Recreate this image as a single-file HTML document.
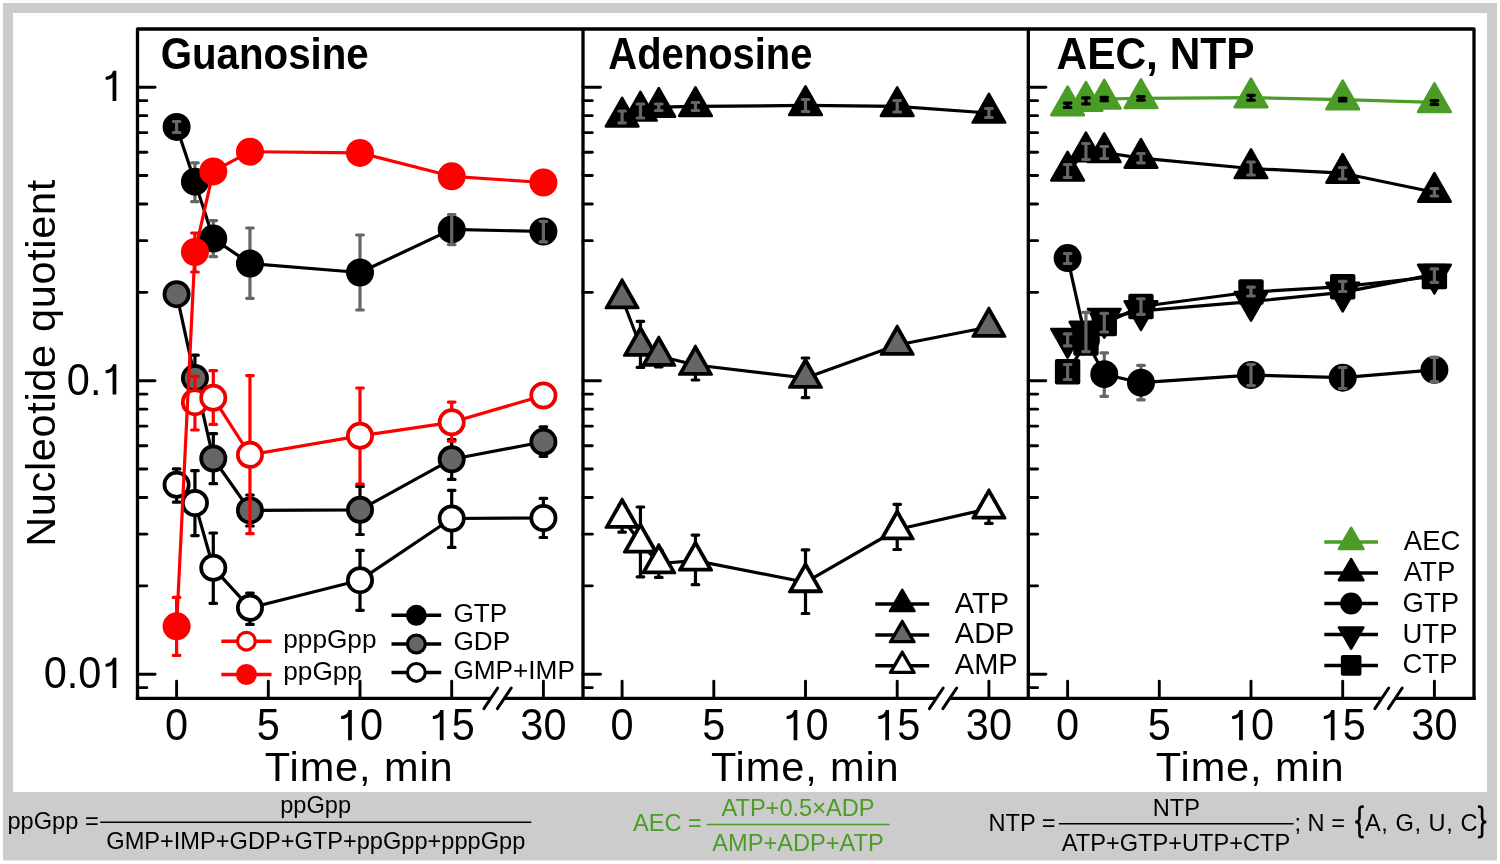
<!DOCTYPE html><html><head><meta charset="utf-8"><style>html,body{margin:0;padding:0;background:#fff;overflow:hidden;}svg{display:block;will-change:transform;}</style></head><body>
<svg width="1500" height="864" viewBox="0 0 1500 864" font-family='"Liberation Sans", sans-serif'>
<rect x="0" y="0" width="1500" height="864" fill="#fff"/>
<rect x="3" y="3" width="1494" height="857.5" fill="#cccccc"/>
<rect x="13" y="13" width="1474" height="779" fill="#fff"/>
<line x1="137.5" y1="87.20" x2="155.0" y2="87.20" stroke="#000" stroke-width="2.9" stroke-linecap="round"/>
<line x1="137.5" y1="380.70" x2="155.0" y2="380.70" stroke="#000" stroke-width="2.9" stroke-linecap="round"/>
<line x1="137.5" y1="674.20" x2="155.0" y2="674.20" stroke="#000" stroke-width="2.9" stroke-linecap="round"/>
<line x1="137.5" y1="292.35" x2="146.8" y2="292.35" stroke="#000" stroke-width="2.9" stroke-linecap="round"/>
<line x1="137.5" y1="240.66" x2="146.8" y2="240.66" stroke="#000" stroke-width="2.9" stroke-linecap="round"/>
<line x1="137.5" y1="204.00" x2="146.8" y2="204.00" stroke="#000" stroke-width="2.9" stroke-linecap="round"/>
<line x1="137.5" y1="175.55" x2="146.8" y2="175.55" stroke="#000" stroke-width="2.9" stroke-linecap="round"/>
<line x1="137.5" y1="152.31" x2="146.8" y2="152.31" stroke="#000" stroke-width="2.9" stroke-linecap="round"/>
<line x1="137.5" y1="132.66" x2="146.8" y2="132.66" stroke="#000" stroke-width="2.9" stroke-linecap="round"/>
<line x1="137.5" y1="115.64" x2="146.8" y2="115.64" stroke="#000" stroke-width="2.9" stroke-linecap="round"/>
<line x1="137.5" y1="100.63" x2="146.8" y2="100.63" stroke="#000" stroke-width="2.9" stroke-linecap="round"/>
<line x1="137.5" y1="585.85" x2="146.8" y2="585.85" stroke="#000" stroke-width="2.9" stroke-linecap="round"/>
<line x1="137.5" y1="534.16" x2="146.8" y2="534.16" stroke="#000" stroke-width="2.9" stroke-linecap="round"/>
<line x1="137.5" y1="497.50" x2="146.8" y2="497.50" stroke="#000" stroke-width="2.9" stroke-linecap="round"/>
<line x1="137.5" y1="469.05" x2="146.8" y2="469.05" stroke="#000" stroke-width="2.9" stroke-linecap="round"/>
<line x1="137.5" y1="445.81" x2="146.8" y2="445.81" stroke="#000" stroke-width="2.9" stroke-linecap="round"/>
<line x1="137.5" y1="426.16" x2="146.8" y2="426.16" stroke="#000" stroke-width="2.9" stroke-linecap="round"/>
<line x1="137.5" y1="409.14" x2="146.8" y2="409.14" stroke="#000" stroke-width="2.9" stroke-linecap="round"/>
<line x1="137.5" y1="394.13" x2="146.8" y2="394.13" stroke="#000" stroke-width="2.9" stroke-linecap="round"/>
<line x1="137.5" y1="687.63" x2="146.8" y2="687.63" stroke="#000" stroke-width="2.9" stroke-linecap="round"/>
<line x1="176.60" y1="698.3" x2="176.60" y2="681.1" stroke="#000" stroke-width="2.9" stroke-linecap="round"/>
<line x1="268.30" y1="698.3" x2="268.30" y2="681.1" stroke="#000" stroke-width="2.9" stroke-linecap="round"/>
<line x1="360.00" y1="698.3" x2="360.00" y2="681.1" stroke="#000" stroke-width="2.9" stroke-linecap="round"/>
<line x1="451.70" y1="698.3" x2="451.70" y2="681.1" stroke="#000" stroke-width="2.9" stroke-linecap="round"/>
<line x1="543.40" y1="698.3" x2="543.40" y2="681.1" stroke="#000" stroke-width="2.9" stroke-linecap="round"/>
<line x1="583.0" y1="87.20" x2="600.5" y2="87.20" stroke="#000" stroke-width="2.9" stroke-linecap="round"/>
<line x1="583.0" y1="380.70" x2="600.5" y2="380.70" stroke="#000" stroke-width="2.9" stroke-linecap="round"/>
<line x1="583.0" y1="674.20" x2="600.5" y2="674.20" stroke="#000" stroke-width="2.9" stroke-linecap="round"/>
<line x1="583.0" y1="292.35" x2="592.3" y2="292.35" stroke="#000" stroke-width="2.9" stroke-linecap="round"/>
<line x1="583.0" y1="240.66" x2="592.3" y2="240.66" stroke="#000" stroke-width="2.9" stroke-linecap="round"/>
<line x1="583.0" y1="204.00" x2="592.3" y2="204.00" stroke="#000" stroke-width="2.9" stroke-linecap="round"/>
<line x1="583.0" y1="175.55" x2="592.3" y2="175.55" stroke="#000" stroke-width="2.9" stroke-linecap="round"/>
<line x1="583.0" y1="152.31" x2="592.3" y2="152.31" stroke="#000" stroke-width="2.9" stroke-linecap="round"/>
<line x1="583.0" y1="132.66" x2="592.3" y2="132.66" stroke="#000" stroke-width="2.9" stroke-linecap="round"/>
<line x1="583.0" y1="115.64" x2="592.3" y2="115.64" stroke="#000" stroke-width="2.9" stroke-linecap="round"/>
<line x1="583.0" y1="100.63" x2="592.3" y2="100.63" stroke="#000" stroke-width="2.9" stroke-linecap="round"/>
<line x1="583.0" y1="585.85" x2="592.3" y2="585.85" stroke="#000" stroke-width="2.9" stroke-linecap="round"/>
<line x1="583.0" y1="534.16" x2="592.3" y2="534.16" stroke="#000" stroke-width="2.9" stroke-linecap="round"/>
<line x1="583.0" y1="497.50" x2="592.3" y2="497.50" stroke="#000" stroke-width="2.9" stroke-linecap="round"/>
<line x1="583.0" y1="469.05" x2="592.3" y2="469.05" stroke="#000" stroke-width="2.9" stroke-linecap="round"/>
<line x1="583.0" y1="445.81" x2="592.3" y2="445.81" stroke="#000" stroke-width="2.9" stroke-linecap="round"/>
<line x1="583.0" y1="426.16" x2="592.3" y2="426.16" stroke="#000" stroke-width="2.9" stroke-linecap="round"/>
<line x1="583.0" y1="409.14" x2="592.3" y2="409.14" stroke="#000" stroke-width="2.9" stroke-linecap="round"/>
<line x1="583.0" y1="394.13" x2="592.3" y2="394.13" stroke="#000" stroke-width="2.9" stroke-linecap="round"/>
<line x1="583.0" y1="687.63" x2="592.3" y2="687.63" stroke="#000" stroke-width="2.9" stroke-linecap="round"/>
<line x1="622.10" y1="698.3" x2="622.10" y2="681.1" stroke="#000" stroke-width="2.9" stroke-linecap="round"/>
<line x1="713.80" y1="698.3" x2="713.80" y2="681.1" stroke="#000" stroke-width="2.9" stroke-linecap="round"/>
<line x1="805.50" y1="698.3" x2="805.50" y2="681.1" stroke="#000" stroke-width="2.9" stroke-linecap="round"/>
<line x1="897.20" y1="698.3" x2="897.20" y2="681.1" stroke="#000" stroke-width="2.9" stroke-linecap="round"/>
<line x1="988.90" y1="698.3" x2="988.90" y2="681.1" stroke="#000" stroke-width="2.9" stroke-linecap="round"/>
<line x1="1028.3" y1="87.20" x2="1045.8" y2="87.20" stroke="#000" stroke-width="2.9" stroke-linecap="round"/>
<line x1="1028.3" y1="380.70" x2="1045.8" y2="380.70" stroke="#000" stroke-width="2.9" stroke-linecap="round"/>
<line x1="1028.3" y1="674.20" x2="1045.8" y2="674.20" stroke="#000" stroke-width="2.9" stroke-linecap="round"/>
<line x1="1028.3" y1="292.35" x2="1037.6" y2="292.35" stroke="#000" stroke-width="2.9" stroke-linecap="round"/>
<line x1="1028.3" y1="240.66" x2="1037.6" y2="240.66" stroke="#000" stroke-width="2.9" stroke-linecap="round"/>
<line x1="1028.3" y1="204.00" x2="1037.6" y2="204.00" stroke="#000" stroke-width="2.9" stroke-linecap="round"/>
<line x1="1028.3" y1="175.55" x2="1037.6" y2="175.55" stroke="#000" stroke-width="2.9" stroke-linecap="round"/>
<line x1="1028.3" y1="152.31" x2="1037.6" y2="152.31" stroke="#000" stroke-width="2.9" stroke-linecap="round"/>
<line x1="1028.3" y1="132.66" x2="1037.6" y2="132.66" stroke="#000" stroke-width="2.9" stroke-linecap="round"/>
<line x1="1028.3" y1="115.64" x2="1037.6" y2="115.64" stroke="#000" stroke-width="2.9" stroke-linecap="round"/>
<line x1="1028.3" y1="100.63" x2="1037.6" y2="100.63" stroke="#000" stroke-width="2.9" stroke-linecap="round"/>
<line x1="1028.3" y1="585.85" x2="1037.6" y2="585.85" stroke="#000" stroke-width="2.9" stroke-linecap="round"/>
<line x1="1028.3" y1="534.16" x2="1037.6" y2="534.16" stroke="#000" stroke-width="2.9" stroke-linecap="round"/>
<line x1="1028.3" y1="497.50" x2="1037.6" y2="497.50" stroke="#000" stroke-width="2.9" stroke-linecap="round"/>
<line x1="1028.3" y1="469.05" x2="1037.6" y2="469.05" stroke="#000" stroke-width="2.9" stroke-linecap="round"/>
<line x1="1028.3" y1="445.81" x2="1037.6" y2="445.81" stroke="#000" stroke-width="2.9" stroke-linecap="round"/>
<line x1="1028.3" y1="426.16" x2="1037.6" y2="426.16" stroke="#000" stroke-width="2.9" stroke-linecap="round"/>
<line x1="1028.3" y1="409.14" x2="1037.6" y2="409.14" stroke="#000" stroke-width="2.9" stroke-linecap="round"/>
<line x1="1028.3" y1="394.13" x2="1037.6" y2="394.13" stroke="#000" stroke-width="2.9" stroke-linecap="round"/>
<line x1="1028.3" y1="687.63" x2="1037.6" y2="687.63" stroke="#000" stroke-width="2.9" stroke-linecap="round"/>
<line x1="1067.60" y1="698.3" x2="1067.60" y2="681.1" stroke="#000" stroke-width="2.9" stroke-linecap="round"/>
<line x1="1159.30" y1="698.3" x2="1159.30" y2="681.1" stroke="#000" stroke-width="2.9" stroke-linecap="round"/>
<line x1="1251.00" y1="698.3" x2="1251.00" y2="681.1" stroke="#000" stroke-width="2.9" stroke-linecap="round"/>
<line x1="1342.70" y1="698.3" x2="1342.70" y2="681.1" stroke="#000" stroke-width="2.9" stroke-linecap="round"/>
<line x1="1434.40" y1="698.3" x2="1434.40" y2="681.1" stroke="#000" stroke-width="2.9" stroke-linecap="round"/>
<path d="M137.5 698.3V29.0H1474.0V698.3" stroke="#000" stroke-width="3.3" fill="none" stroke-linejoin="round" stroke-linecap="square"/>
<path d="M583.0 29.0V698.3M1028.3 29.0V698.3" stroke="#000" stroke-width="3.3" fill="none"/>
<path d="M135.85 698.3H490.80M504.30 698.3H936.30M949.80 698.3H1381.80M1395.30 698.3H1475.65" stroke="#000" stroke-width="3.3" fill="none"/>
<line x1="483.90" y1="708.70" x2="497.70" y2="688.00" stroke="#000" stroke-width="3" stroke-linecap="round"/>
<line x1="497.40" y1="708.70" x2="511.20" y2="688.00" stroke="#000" stroke-width="3" stroke-linecap="round"/>
<line x1="929.40" y1="708.70" x2="943.20" y2="688.00" stroke="#000" stroke-width="3" stroke-linecap="round"/>
<line x1="942.90" y1="708.70" x2="956.70" y2="688.00" stroke="#000" stroke-width="3" stroke-linecap="round"/>
<line x1="1374.90" y1="708.70" x2="1388.70" y2="688.00" stroke="#000" stroke-width="3" stroke-linecap="round"/>
<line x1="1388.40" y1="708.70" x2="1402.20" y2="688.00" stroke="#000" stroke-width="3" stroke-linecap="round"/>
<path d="M176.60 484.80 L194.94 503.00 L213.28 567.80 L249.96 607.80 L360.00 580.20 L451.70 518.50 L543.40 518.00" stroke="#000" stroke-width="3.2" fill="none" stroke-linejoin="round"/>
<path d="M176.60 468.90V502.20M173.30 468.90H179.90M173.30 502.20H179.90" stroke="#000" stroke-width="3.2" stroke-linecap="round" fill="none"/>
<circle cx="176.60" cy="484.80" r="12.15" fill="#fff" stroke="#000" stroke-width="3.7"/>
<path d="M194.94 470.70V535.60M191.64 470.70H198.24M191.64 535.60H198.24" stroke="#000" stroke-width="3.2" stroke-linecap="round" fill="none"/>
<circle cx="194.94" cy="503.00" r="12.15" fill="#fff" stroke="#000" stroke-width="3.7"/>
<path d="M213.28 533.00V603.30M209.98 533.00H216.58M209.98 603.30H216.58" stroke="#000" stroke-width="3.2" stroke-linecap="round" fill="none"/>
<circle cx="213.28" cy="567.80" r="12.15" fill="#fff" stroke="#000" stroke-width="3.7"/>
<path d="M249.96 593.00V624.40M246.66 593.00H253.26M246.66 624.40H253.26" stroke="#000" stroke-width="3.2" stroke-linecap="round" fill="none"/>
<circle cx="249.96" cy="607.80" r="12.15" fill="#fff" stroke="#000" stroke-width="3.7"/>
<path d="M360.00 550.40V610.30M356.70 550.40H363.30M356.70 610.30H363.30" stroke="#000" stroke-width="3.2" stroke-linecap="round" fill="none"/>
<circle cx="360.00" cy="580.20" r="12.15" fill="#fff" stroke="#000" stroke-width="3.7"/>
<path d="M451.70 490.30V547.40M448.40 490.30H455.00M448.40 547.40H455.00" stroke="#000" stroke-width="3.2" stroke-linecap="round" fill="none"/>
<circle cx="451.70" cy="518.50" r="12.15" fill="#fff" stroke="#000" stroke-width="3.7"/>
<path d="M543.40 498.40V537.50M540.10 498.40H546.70M540.10 537.50H546.70" stroke="#000" stroke-width="3.2" stroke-linecap="round" fill="none"/>
<circle cx="543.40" cy="518.00" r="12.15" fill="#fff" stroke="#000" stroke-width="3.7"/>
<path d="M176.60 294.20 L194.94 378.10 L213.28 458.50 L249.96 510.40 L360.00 509.80 L451.70 459.30 L543.40 441.80" stroke="#000" stroke-width="3.2" fill="none" stroke-linejoin="round"/>
<circle cx="176.60" cy="294.20" r="12.15" fill="#666666" stroke="#000" stroke-width="3.7"/>
<path d="M194.94 355.20V400.00M191.64 355.20H198.24M191.64 400.00H198.24" stroke="#000" stroke-width="3.2" stroke-linecap="round" fill="none"/>
<circle cx="194.94" cy="378.10" r="12.15" fill="#666666" stroke="#000" stroke-width="3.7"/>
<path d="M213.28 433.70V483.70M209.98 433.70H216.58M209.98 483.70H216.58" stroke="#000" stroke-width="3.2" stroke-linecap="round" fill="none"/>
<circle cx="213.28" cy="458.50" r="12.15" fill="#666666" stroke="#000" stroke-width="3.7"/>
<path d="M249.96 495.00V526.00M246.66 495.00H253.26M246.66 526.00H253.26" stroke="#000" stroke-width="3.2" stroke-linecap="round" fill="none"/>
<circle cx="249.96" cy="510.40" r="12.15" fill="#666666" stroke="#000" stroke-width="3.7"/>
<path d="M360.00 486.40V534.50M356.70 486.40H363.30M356.70 534.50H363.30" stroke="#000" stroke-width="3.2" stroke-linecap="round" fill="none"/>
<circle cx="360.00" cy="509.80" r="12.15" fill="#666666" stroke="#000" stroke-width="3.7"/>
<path d="M451.70 439.70V479.40M448.40 439.70H455.00M448.40 479.40H455.00" stroke="#000" stroke-width="3.2" stroke-linecap="round" fill="none"/>
<circle cx="451.70" cy="459.30" r="12.15" fill="#666666" stroke="#000" stroke-width="3.7"/>
<path d="M543.40 426.80V456.30M540.10 426.80H546.70M540.10 456.30H546.70" stroke="#000" stroke-width="3.2" stroke-linecap="round" fill="none"/>
<circle cx="543.40" cy="441.80" r="12.15" fill="#666666" stroke="#000" stroke-width="3.7"/>
<path d="M176.60 126.90 L194.94 181.70 L213.28 238.60 L249.96 263.60 L360.00 272.50 L451.70 229.40 L543.40 231.50" stroke="#000" stroke-width="3.2" fill="none" stroke-linejoin="round"/>
<circle cx="176.60" cy="126.90" r="12.15" fill="#000" stroke="#000" stroke-width="3.7"/>
<path d="M194.94 162.80V201.70M191.64 162.80H198.24M191.64 201.70H198.24" stroke="#666666" stroke-width="3.2" stroke-linecap="round" fill="none"/>
<circle cx="194.94" cy="181.70" r="12.15" fill="#000" stroke="#000" stroke-width="3.7"/>
<path d="M213.28 220.60V256.70M209.98 220.60H216.58M209.98 256.70H216.58" stroke="#666666" stroke-width="3.2" stroke-linecap="round" fill="none"/>
<circle cx="213.28" cy="238.60" r="12.15" fill="#000" stroke="#000" stroke-width="3.7"/>
<path d="M249.96 228.00V298.30M246.66 228.00H253.26M246.66 298.30H253.26" stroke="#666666" stroke-width="3.2" stroke-linecap="round" fill="none"/>
<circle cx="249.96" cy="263.60" r="12.15" fill="#000" stroke="#000" stroke-width="3.7"/>
<path d="M360.00 235.00V310.00M356.70 235.00H363.30M356.70 310.00H363.30" stroke="#666666" stroke-width="3.2" stroke-linecap="round" fill="none"/>
<circle cx="360.00" cy="272.50" r="12.15" fill="#000" stroke="#000" stroke-width="3.7"/>
<circle cx="451.70" cy="229.40" r="12.15" fill="#000" stroke="#000" stroke-width="3.7"/>
<circle cx="543.40" cy="231.50" r="12.15" fill="#000" stroke="#000" stroke-width="3.7"/>
<path d="M194.94 402.20 L213.28 397.80 L249.96 454.80 L360.00 435.80 L451.70 422.30 L543.40 395.50" stroke="#ff0000" stroke-width="3.2" fill="none" stroke-linejoin="round"/>
<path d="M194.94 376.30V430.00M191.64 376.30H198.24M191.64 430.00H198.24" stroke="#ff0000" stroke-width="3.2" stroke-linecap="round" fill="none"/>
<circle cx="194.94" cy="402.20" r="12.15" fill="#fff" stroke="#ee0000" stroke-width="3.7"/>
<path d="M213.28 370.70V424.40M209.98 370.70H216.58M209.98 424.40H216.58" stroke="#ff0000" stroke-width="3.2" stroke-linecap="round" fill="none"/>
<circle cx="213.28" cy="397.80" r="12.15" fill="#fff" stroke="#ee0000" stroke-width="3.7"/>
<path d="M249.96 375.60V533.70M246.66 375.60H253.26M246.66 533.70H253.26" stroke="#ff0000" stroke-width="3.2" stroke-linecap="round" fill="none"/>
<circle cx="249.96" cy="454.80" r="12.15" fill="#fff" stroke="#ee0000" stroke-width="3.7"/>
<path d="M360.00 388.00V484.00M356.70 388.00H363.30M356.70 484.00H363.30" stroke="#ff0000" stroke-width="3.2" stroke-linecap="round" fill="none"/>
<circle cx="360.00" cy="435.80" r="12.15" fill="#fff" stroke="#ee0000" stroke-width="3.7"/>
<path d="M451.70 402.10V441.20M448.40 402.10H455.00M448.40 441.20H455.00" stroke="#ff0000" stroke-width="3.2" stroke-linecap="round" fill="none"/>
<circle cx="451.70" cy="422.30" r="12.15" fill="#fff" stroke="#ee0000" stroke-width="3.7"/>
<circle cx="543.40" cy="395.50" r="12.15" fill="#fff" stroke="#ee0000" stroke-width="3.7"/>
<path d="M176.60 626.30 L194.94 252.00 L213.28 171.40 L249.96 151.70 L360.00 152.90 L451.70 176.30 L543.40 182.50" stroke="#ff0000" stroke-width="3.2" fill="none" stroke-linejoin="round"/>
<path d="M176.60 597.40V655.40M173.30 597.40H179.90M173.30 655.40H179.90" stroke="#ff0000" stroke-width="3.2" stroke-linecap="round" fill="none"/>
<circle cx="176.60" cy="626.30" r="12.15" fill="#ff0000" stroke="#ff0000" stroke-width="3.7"/>
<path d="M194.94 233.00V272.00M191.64 233.00H198.24M191.64 272.00H198.24" stroke="#ff0000" stroke-width="3.2" stroke-linecap="round" fill="none"/>
<circle cx="194.94" cy="252.00" r="12.15" fill="#ff0000" stroke="#ff0000" stroke-width="3.7"/>
<circle cx="213.28" cy="171.40" r="12.15" fill="#ff0000" stroke="#ff0000" stroke-width="3.7"/>
<circle cx="249.96" cy="151.70" r="12.15" fill="#ff0000" stroke="#ff0000" stroke-width="3.7"/>
<circle cx="360.00" cy="152.90" r="12.15" fill="#ff0000" stroke="#ff0000" stroke-width="3.7"/>
<circle cx="451.70" cy="176.30" r="12.15" fill="#ff0000" stroke="#ff0000" stroke-width="3.7"/>
<circle cx="543.40" cy="182.50" r="12.15" fill="#ff0000" stroke="#ff0000" stroke-width="3.7"/>
<path d="M176.60 121.50V132.50M173.30 121.50H179.90M173.30 132.50H179.90" stroke="#666666" stroke-width="3.2" stroke-linecap="round" fill="none"/>
<path d="M451.70 214.50V244.60M448.40 214.50H455.00M448.40 244.60H455.00" stroke="#666666" stroke-width="3.2" stroke-linecap="round" fill="none"/>
<path d="M543.40 221.30V241.90M540.10 221.30H546.70M540.10 241.90H546.70" stroke="#666666" stroke-width="3.2" stroke-linecap="round" fill="none"/>
<path d="M622.10 518.00 L640.44 542.60 L658.78 563.50 L695.46 560.60 L805.50 582.30 L897.20 529.50 L988.90 508.60" stroke="#000" stroke-width="3.2" fill="none" stroke-linejoin="round"/>
<path d="M622.10 505.00V532.20M618.80 505.00H625.40M618.80 532.20H625.40" stroke="#000" stroke-width="3.2" stroke-linecap="round" fill="none"/>
<polygon points="622.10,498.93 605.82,527.53 638.38,527.53" fill="#000" stroke="#000" stroke-width="2.6" stroke-linejoin="round"/>
<polygon points="622.10,503.93 610.09,525.03 634.11,525.03" fill="#fff"/>
<path d="M640.44 507.00V576.80M637.14 507.00H643.74M637.14 576.80H643.74" stroke="#000" stroke-width="3.2" stroke-linecap="round" fill="none"/>
<polygon points="640.44,523.53 624.16,552.13 656.72,552.13" fill="#000" stroke="#000" stroke-width="2.6" stroke-linejoin="round"/>
<polygon points="640.44,528.53 628.43,549.63 652.45,549.63" fill="#fff"/>
<path d="M658.78 550.00V577.40M655.48 550.00H662.08M655.48 577.40H662.08" stroke="#000" stroke-width="3.2" stroke-linecap="round" fill="none"/>
<polygon points="658.78,544.43 642.50,573.03 675.06,573.03" fill="#000" stroke="#000" stroke-width="2.6" stroke-linejoin="round"/>
<polygon points="658.78,549.43 646.77,570.53 670.79,570.53" fill="#fff"/>
<path d="M695.46 535.10V584.70M692.16 535.10H698.76M692.16 584.70H698.76" stroke="#000" stroke-width="3.2" stroke-linecap="round" fill="none"/>
<polygon points="695.46,541.53 679.18,570.13 711.74,570.13" fill="#000" stroke="#000" stroke-width="2.6" stroke-linejoin="round"/>
<polygon points="695.46,546.53 683.45,567.63 707.47,567.63" fill="#fff"/>
<path d="M805.50 549.80V613.50M802.20 549.80H808.80M802.20 613.50H808.80" stroke="#000" stroke-width="3.2" stroke-linecap="round" fill="none"/>
<polygon points="805.50,563.23 789.22,591.83 821.78,591.83" fill="#000" stroke="#000" stroke-width="2.6" stroke-linejoin="round"/>
<polygon points="805.50,568.23 793.49,589.33 817.51,589.33" fill="#fff"/>
<path d="M897.20 504.30V549.50M893.90 504.30H900.50M893.90 549.50H900.50" stroke="#000" stroke-width="3.2" stroke-linecap="round" fill="none"/>
<polygon points="897.20,510.43 880.92,539.03 913.48,539.03" fill="#000" stroke="#000" stroke-width="2.6" stroke-linejoin="round"/>
<polygon points="897.20,515.43 885.19,536.53 909.21,536.53" fill="#fff"/>
<path d="M988.90 496.00V523.40M985.60 496.00H992.20M985.60 523.40H992.20" stroke="#000" stroke-width="3.2" stroke-linecap="round" fill="none"/>
<polygon points="988.90,489.53 972.62,518.13 1005.18,518.13" fill="#000" stroke="#000" stroke-width="2.6" stroke-linejoin="round"/>
<polygon points="988.90,494.53 976.89,515.63 1000.91,515.63" fill="#fff"/>
<path d="M622.10 298.50 L640.44 346.00 L658.78 356.00 L695.46 365.00 L805.50 378.00 L897.20 345.00 L988.90 327.00" stroke="#000" stroke-width="3.2" fill="none" stroke-linejoin="round"/>
<polygon points="622.10,279.43 605.82,308.03 638.38,308.03" fill="#000" stroke="#000" stroke-width="2.6" stroke-linejoin="round"/>
<polygon points="622.10,284.43 610.09,305.53 634.11,305.53" fill="#666666"/>
<path d="M640.44 321.30V367.40M637.14 321.30H643.74M637.14 367.40H643.74" stroke="#000" stroke-width="3.2" stroke-linecap="round" fill="none"/>
<polygon points="640.44,326.93 624.16,355.53 656.72,355.53" fill="#000" stroke="#000" stroke-width="2.6" stroke-linejoin="round"/>
<polygon points="640.44,331.93 628.43,353.03 652.45,353.03" fill="#666666"/>
<path d="M658.78 346.00V366.80M655.48 346.00H662.08M655.48 366.80H662.08" stroke="#000" stroke-width="3.2" stroke-linecap="round" fill="none"/>
<polygon points="658.78,336.93 642.50,365.53 675.06,365.53" fill="#000" stroke="#000" stroke-width="2.6" stroke-linejoin="round"/>
<polygon points="658.78,341.93 646.77,363.03 670.79,363.03" fill="#666666"/>
<path d="M695.46 358.00V380.00M692.16 358.00H698.76M692.16 380.00H698.76" stroke="#000" stroke-width="3.2" stroke-linecap="round" fill="none"/>
<polygon points="695.46,345.93 679.18,374.53 711.74,374.53" fill="#000" stroke="#000" stroke-width="2.6" stroke-linejoin="round"/>
<polygon points="695.46,350.93 683.45,372.03 707.47,372.03" fill="#666666"/>
<path d="M805.50 358.00V397.60M802.20 358.00H808.80M802.20 397.60H808.80" stroke="#000" stroke-width="3.2" stroke-linecap="round" fill="none"/>
<polygon points="805.50,358.93 789.22,387.53 821.78,387.53" fill="#000" stroke="#000" stroke-width="2.6" stroke-linejoin="round"/>
<polygon points="805.50,363.93 793.49,385.03 817.51,385.03" fill="#666666"/>
<polygon points="897.20,325.93 880.92,354.53 913.48,354.53" fill="#000" stroke="#000" stroke-width="2.6" stroke-linejoin="round"/>
<polygon points="897.20,330.93 885.19,352.03 909.21,352.03" fill="#666666"/>
<polygon points="988.90,307.93 972.62,336.53 1005.18,336.53" fill="#000" stroke="#000" stroke-width="2.6" stroke-linejoin="round"/>
<polygon points="988.90,312.93 976.89,334.03 1000.91,334.03" fill="#666666"/>
<path d="M622.10 116.90 L640.44 111.00 L658.78 107.20 L695.46 106.40 L805.50 105.40 L897.20 106.40 L988.90 113.00" stroke="#000" stroke-width="3.2" fill="none" stroke-linejoin="round"/>
<polygon points="622.10,97.83 605.82,126.43 638.38,126.43" fill="#000" stroke="#000" stroke-width="2.6" stroke-linejoin="round"/>
<polygon points="640.44,91.93 624.16,120.53 656.72,120.53" fill="#000" stroke="#000" stroke-width="2.6" stroke-linejoin="round"/>
<polygon points="658.78,88.13 642.50,116.73 675.06,116.73" fill="#000" stroke="#000" stroke-width="2.6" stroke-linejoin="round"/>
<polygon points="695.46,87.33 679.18,115.93 711.74,115.93" fill="#000" stroke="#000" stroke-width="2.6" stroke-linejoin="round"/>
<polygon points="805.50,86.33 789.22,114.93 821.78,114.93" fill="#000" stroke="#000" stroke-width="2.6" stroke-linejoin="round"/>
<polygon points="897.20,87.33 880.92,115.93 913.48,115.93" fill="#000" stroke="#000" stroke-width="2.6" stroke-linejoin="round"/>
<polygon points="988.90,93.93 972.62,122.53 1005.18,122.53" fill="#000" stroke="#000" stroke-width="2.6" stroke-linejoin="round"/>
<path d="M622.10 111.00V122.80M618.80 111.00H625.40M618.80 122.80H625.40" stroke="#666666" stroke-width="3.2" stroke-linecap="round" fill="none"/>
<path d="M640.44 104.00V118.00M637.14 104.00H643.74M637.14 118.00H643.74" stroke="#666666" stroke-width="3.2" stroke-linecap="round" fill="none"/>
<path d="M658.78 104.00V110.50M655.48 104.00H662.08M655.48 110.50H662.08" stroke="#666666" stroke-width="3.2" stroke-linecap="round" fill="none"/>
<path d="M695.46 102.50V110.50M692.16 102.50H698.76M692.16 110.50H698.76" stroke="#666666" stroke-width="3.2" stroke-linecap="round" fill="none"/>
<path d="M805.50 99.50V111.50M802.20 99.50H808.80M802.20 111.50H808.80" stroke="#666666" stroke-width="3.2" stroke-linecap="round" fill="none"/>
<path d="M897.20 100.50V112.00M893.90 100.50H900.50M893.90 112.00H900.50" stroke="#666666" stroke-width="3.2" stroke-linecap="round" fill="none"/>
<path d="M988.90 108.50V117.50M985.60 108.50H992.20M985.60 117.50H992.20" stroke="#666666" stroke-width="3.2" stroke-linecap="round" fill="none"/>
<path d="M1067.60 258.10 L1085.94 340.00 L1104.28 374.20 L1140.96 382.70 L1251.00 375.10 L1342.70 377.70 L1434.40 369.80" stroke="#000" stroke-width="3.2" fill="none" stroke-linejoin="round"/>
<circle cx="1067.60" cy="258.10" r="12.15" fill="#000" stroke="#000" stroke-width="3.7"/>
<circle cx="1085.94" cy="340.00" r="12.15" fill="#000" stroke="#000" stroke-width="3.7"/>
<path d="M1104.28 352.90V396.30M1100.98 352.90H1107.58M1100.98 396.30H1107.58" stroke="#666666" stroke-width="3.2" stroke-linecap="round" fill="none"/>
<circle cx="1104.28" cy="374.20" r="12.15" fill="#000" stroke="#000" stroke-width="3.7"/>
<path d="M1140.96 365.40V399.80M1137.66 365.40H1144.26M1137.66 399.80H1144.26" stroke="#666666" stroke-width="3.2" stroke-linecap="round" fill="none"/>
<circle cx="1140.96" cy="382.70" r="12.15" fill="#000" stroke="#000" stroke-width="3.7"/>
<circle cx="1251.00" cy="375.10" r="12.15" fill="#000" stroke="#000" stroke-width="3.7"/>
<circle cx="1342.70" cy="377.70" r="12.15" fill="#000" stroke="#000" stroke-width="3.7"/>
<circle cx="1434.40" cy="369.80" r="12.15" fill="#000" stroke="#000" stroke-width="3.7"/>
<path d="M1067.60 338.50 L1085.94 331.30 L1104.28 318.50 L1140.96 310.90 L1251.00 301.60 L1342.70 292.40 L1434.40 274.40" stroke="#000" stroke-width="3.2" fill="none" stroke-linejoin="round"/>
<polygon points="1067.60,357.57 1051.32,328.97 1083.88,328.97" fill="#000" stroke="#000" stroke-width="2.6" stroke-linejoin="round"/>
<polygon points="1085.94,350.37 1069.66,321.77 1102.22,321.77" fill="#000" stroke="#000" stroke-width="2.6" stroke-linejoin="round"/>
<polygon points="1104.28,337.57 1088.00,308.97 1120.56,308.97" fill="#000" stroke="#000" stroke-width="2.6" stroke-linejoin="round"/>
<polygon points="1140.96,329.97 1124.68,301.37 1157.24,301.37" fill="#000" stroke="#000" stroke-width="2.6" stroke-linejoin="round"/>
<polygon points="1251.00,320.67 1234.72,292.07 1267.28,292.07" fill="#000" stroke="#000" stroke-width="2.6" stroke-linejoin="round"/>
<polygon points="1342.70,311.47 1326.42,282.87 1358.98,282.87" fill="#000" stroke="#000" stroke-width="2.6" stroke-linejoin="round"/>
<polygon points="1434.40,293.47 1418.12,264.87 1450.68,264.87" fill="#000" stroke="#000" stroke-width="2.6" stroke-linejoin="round"/>
<path d="M1067.60 371.80 L1085.94 343.00 L1104.28 323.50 L1140.96 306.50 L1251.00 292.00 L1342.70 286.70 L1434.40 276.50" stroke="#000" stroke-width="3.2" fill="none" stroke-linejoin="round"/>
<rect x="1054.90" y="359.10" width="25.4" height="25.4" rx="2" fill="#000"/>
<rect x="1073.24" y="330.30" width="25.4" height="25.4" rx="2" fill="#000"/>
<rect x="1091.58" y="310.80" width="25.4" height="25.4" rx="2" fill="#000"/>
<rect x="1128.26" y="293.80" width="25.4" height="25.4" rx="2" fill="#000"/>
<rect x="1238.30" y="279.30" width="25.4" height="25.4" rx="2" fill="#000"/>
<rect x="1330.00" y="274.00" width="25.4" height="25.4" rx="2" fill="#000"/>
<rect x="1421.70" y="263.80" width="25.4" height="25.4" rx="2" fill="#000"/>
<path d="M1067.60 170.90 L1085.94 151.60 L1104.28 152.50 L1140.96 158.10 L1251.00 168.50 L1342.70 173.20 L1434.40 192.20" stroke="#000" stroke-width="3.2" fill="none" stroke-linejoin="round"/>
<polygon points="1067.60,151.83 1051.32,180.43 1083.88,180.43" fill="#000" stroke="#000" stroke-width="2.6" stroke-linejoin="round"/>
<polygon points="1085.94,132.53 1069.66,161.13 1102.22,161.13" fill="#000" stroke="#000" stroke-width="2.6" stroke-linejoin="round"/>
<polygon points="1104.28,133.43 1088.00,162.03 1120.56,162.03" fill="#000" stroke="#000" stroke-width="2.6" stroke-linejoin="round"/>
<polygon points="1140.96,139.03 1124.68,167.63 1157.24,167.63" fill="#000" stroke="#000" stroke-width="2.6" stroke-linejoin="round"/>
<polygon points="1251.00,149.43 1234.72,178.03 1267.28,178.03" fill="#000" stroke="#000" stroke-width="2.6" stroke-linejoin="round"/>
<polygon points="1342.70,154.13 1326.42,182.73 1358.98,182.73" fill="#000" stroke="#000" stroke-width="2.6" stroke-linejoin="round"/>
<polygon points="1434.40,173.13 1418.12,201.73 1450.68,201.73" fill="#000" stroke="#000" stroke-width="2.6" stroke-linejoin="round"/>
<path d="M1067.60 105.60 L1085.94 101.20 L1104.28 99.00 L1140.96 98.40 L1251.00 97.60 L1342.70 99.70 L1434.40 102.40" stroke="#4b9b27" stroke-width="3.2" fill="none" stroke-linejoin="round"/>
<polygon points="1067.60,86.53 1051.32,115.13 1083.88,115.13" fill="#4b9b27" stroke="#4b9b27" stroke-width="2.6" stroke-linejoin="round"/>
<polygon points="1085.94,82.13 1069.66,110.73 1102.22,110.73" fill="#4b9b27" stroke="#4b9b27" stroke-width="2.6" stroke-linejoin="round"/>
<polygon points="1104.28,79.93 1088.00,108.53 1120.56,108.53" fill="#4b9b27" stroke="#4b9b27" stroke-width="2.6" stroke-linejoin="round"/>
<polygon points="1140.96,79.33 1124.68,107.93 1157.24,107.93" fill="#4b9b27" stroke="#4b9b27" stroke-width="2.6" stroke-linejoin="round"/>
<polygon points="1251.00,78.53 1234.72,107.13 1267.28,107.13" fill="#4b9b27" stroke="#4b9b27" stroke-width="2.6" stroke-linejoin="round"/>
<polygon points="1342.70,80.63 1326.42,109.23 1358.98,109.23" fill="#4b9b27" stroke="#4b9b27" stroke-width="2.6" stroke-linejoin="round"/>
<polygon points="1434.40,83.33 1418.12,111.93 1450.68,111.93" fill="#4b9b27" stroke="#4b9b27" stroke-width="2.6" stroke-linejoin="round"/>
<path d="M1067.60 253.50V263.50M1064.30 253.50H1070.90M1064.30 263.50H1070.90" stroke="#666666" stroke-width="3.2" stroke-linecap="round" fill="none"/>
<path d="M1251.00 364.30V385.60M1247.70 364.30H1254.30M1247.70 385.60H1254.30" stroke="#666666" stroke-width="3.2" stroke-linecap="round" fill="none"/>
<path d="M1342.70 367.50V388.50M1339.40 367.50H1346.00M1339.40 388.50H1346.00" stroke="#666666" stroke-width="3.2" stroke-linecap="round" fill="none"/>
<path d="M1434.40 357.40V381.60M1431.10 357.40H1437.70M1431.10 381.60H1437.70" stroke="#666666" stroke-width="3.2" stroke-linecap="round" fill="none"/>
<path d="M1067.60 333.90V345.80M1064.30 333.90H1070.90M1064.30 345.80H1070.90" stroke="#666666" stroke-width="3.2" stroke-linecap="round" fill="none"/>
<path d="M1067.60 364.50V379.50M1064.30 364.50H1070.90M1064.30 379.50H1070.90" stroke="#666666" stroke-width="3.2" stroke-linecap="round" fill="none"/>
<path d="M1104.28 313.30V332.00M1100.98 313.30H1107.58M1100.98 332.00H1107.58" stroke="#666666" stroke-width="3.2" stroke-linecap="round" fill="none"/>
<path d="M1140.96 298.75V314.40M1137.66 298.75H1144.26M1137.66 314.40H1144.26" stroke="#666666" stroke-width="3.2" stroke-linecap="round" fill="none"/>
<path d="M1251.00 287.20V296.00M1247.70 287.20H1254.30M1247.70 296.00H1254.30" stroke="#666666" stroke-width="3.2" stroke-linecap="round" fill="none"/>
<path d="M1342.70 281.30V291.50M1339.40 281.30H1346.00M1339.40 291.50H1346.00" stroke="#666666" stroke-width="3.2" stroke-linecap="round" fill="none"/>
<path d="M1434.40 268.90V282.30M1431.10 268.90H1437.70M1431.10 282.30H1437.70" stroke="#666666" stroke-width="3.2" stroke-linecap="round" fill="none"/>
<path d="M1085.94 312.30V351.60M1082.64 312.30H1089.24M1082.64 351.60H1089.24" stroke="#666666" stroke-width="3.2" stroke-linecap="round" fill="none"/>
<path d="M1067.60 164.50V177.50M1064.30 164.50H1070.90M1064.30 177.50H1070.90" stroke="#666666" stroke-width="3.2" stroke-linecap="round" fill="none"/>
<path d="M1085.94 143.50V159.50M1082.64 143.50H1089.24M1082.64 159.50H1089.24" stroke="#666666" stroke-width="3.2" stroke-linecap="round" fill="none"/>
<path d="M1104.28 146.50V158.50M1100.98 146.50H1107.58M1100.98 158.50H1107.58" stroke="#666666" stroke-width="3.2" stroke-linecap="round" fill="none"/>
<path d="M1140.96 153.50V162.80M1137.66 153.50H1144.26M1137.66 162.80H1144.26" stroke="#666666" stroke-width="3.2" stroke-linecap="round" fill="none"/>
<path d="M1251.00 162.00V175.00M1247.70 162.00H1254.30M1247.70 175.00H1254.30" stroke="#666666" stroke-width="3.2" stroke-linecap="round" fill="none"/>
<path d="M1342.70 167.50V179.00M1339.40 167.50H1346.00M1339.40 179.00H1346.00" stroke="#666666" stroke-width="3.2" stroke-linecap="round" fill="none"/>
<path d="M1434.40 188.50V196.00M1431.10 188.50H1437.70M1431.10 196.00H1437.70" stroke="#666666" stroke-width="3.2" stroke-linecap="round" fill="none"/>
<path d="M1067.60 103.10V107.40M1064.30 103.10H1070.90M1064.30 107.40H1070.90" stroke="#000" stroke-width="3.2" stroke-linecap="round" fill="none"/>
<path d="M1085.94 97.90V103.90M1082.64 97.90H1089.24M1082.64 103.90H1089.24" stroke="#000" stroke-width="3.2" stroke-linecap="round" fill="none"/>
<path d="M1104.28 97.30V100.60M1100.98 97.30H1107.58M1100.98 100.60H1107.58" stroke="#000" stroke-width="3.2" stroke-linecap="round" fill="none"/>
<path d="M1140.96 96.60V100.20M1137.66 96.60H1144.26M1137.66 100.20H1144.26" stroke="#000" stroke-width="3.2" stroke-linecap="round" fill="none"/>
<path d="M1251.00 95.30V100.20M1247.70 95.30H1254.30M1247.70 100.20H1254.30" stroke="#000" stroke-width="3.2" stroke-linecap="round" fill="none"/>
<path d="M1342.70 98.40V101.00M1339.40 98.40H1346.00M1339.40 101.00H1346.00" stroke="#000" stroke-width="3.2" stroke-linecap="round" fill="none"/>
<path d="M1434.40 100.60V104.40M1431.10 100.60H1437.70M1431.10 104.40H1437.70" stroke="#000" stroke-width="3.2" stroke-linecap="round" fill="none"/>
<line x1="221.3" y1="641.2" x2="271.5" y2="641.2" stroke="#ff0000" stroke-width="3.5"/>
<circle cx="246.40" cy="641.20" r="8.90" fill="#fff" stroke="#ee0000" stroke-width="3.2"/>
<text x="283.3" y="648.4" font-size="26.2">pppGpp</text>
<line x1="221.3" y1="674.5" x2="271.5" y2="674.5" stroke="#ff0000" stroke-width="3.5"/>
<circle cx="246.40" cy="674.50" r="8.90" fill="#ff0000" stroke="#ff0000" stroke-width="3.2"/>
<text x="283.3" y="679.6" font-size="26.2">ppGpp</text>
<line x1="391.5" y1="615.3" x2="441.2" y2="615.3" stroke="#000" stroke-width="3.5"/>
<circle cx="416.35" cy="615.30" r="8.90" fill="#000" stroke="#000" stroke-width="3.2"/>
<text x="453.4" y="621.9" font-size="26.2">GTP</text>
<line x1="391.5" y1="644.0" x2="441.2" y2="644.0" stroke="#000" stroke-width="3.5"/>
<circle cx="416.35" cy="644.00" r="8.90" fill="#666666" stroke="#000" stroke-width="3.2"/>
<text x="453.4" y="650.3" font-size="26.2">GDP</text>
<line x1="391.5" y1="672.4" x2="441.2" y2="672.4" stroke="#000" stroke-width="3.5"/>
<circle cx="416.35" cy="672.40" r="8.90" fill="#fff" stroke="#000" stroke-width="3.2"/>
<text x="453.4" y="679.0" font-size="26.2">GMP+IMP</text>
<line x1="875.3" y1="604.0" x2="929.2" y2="604.0" stroke="#000" stroke-width="3.5"/>
<polygon points="902.25,589.93 890.01,611.03 914.49,611.03" fill="#000" stroke="#000" stroke-width="2.6" stroke-linejoin="round"/>
<text x="954.8" y="612.6" font-size="29.0">ATP</text>
<line x1="875.3" y1="635.0" x2="929.2" y2="635.0" stroke="#000" stroke-width="3.5"/>
<polygon points="902.25,620.93 890.01,642.03 914.49,642.03" fill="#000" stroke="#000" stroke-width="2.6" stroke-linejoin="round"/>
<polygon points="902.25,624.93 893.49,640.03 911.01,640.03" fill="#666666"/>
<text x="954.8" y="643.2" font-size="29.0">ADP</text>
<line x1="875.3" y1="665.7" x2="929.2" y2="665.7" stroke="#000" stroke-width="3.5"/>
<polygon points="902.25,651.63 890.01,672.73 914.49,672.73" fill="#000" stroke="#000" stroke-width="2.6" stroke-linejoin="round"/>
<polygon points="902.25,655.63 893.49,670.73 911.01,670.73" fill="#fff"/>
<text x="954.8" y="674.2" font-size="29.0">AMP</text>
<line x1="1324.3" y1="541.9" x2="1378" y2="541.9" stroke="#4b9b27" stroke-width="3.5"/>
<polygon points="1351.15,527.83 1338.91,548.93 1363.39,548.93" fill="#4b9b27" stroke="#4b9b27" stroke-width="2.6" stroke-linejoin="round"/>
<text x="1403.8" y="550.4" font-size="27.5">AEC</text>
<line x1="1324.3" y1="573.1" x2="1378" y2="573.1" stroke="#000" stroke-width="3.5"/>
<polygon points="1351.15,559.03 1338.91,580.13 1363.39,580.13" fill="#000" stroke="#000" stroke-width="2.6" stroke-linejoin="round"/>
<text x="1403.8" y="580.9" font-size="27.5">ATP</text>
<line x1="1324.3" y1="603.5" x2="1378" y2="603.5" stroke="#000" stroke-width="3.5"/>
<circle cx="1351.15" cy="603.50" r="9.40" fill="#000" stroke="#000" stroke-width="3.2"/>
<text x="1402.5" y="612.0" font-size="27.5">GTP</text>
<line x1="1324.3" y1="634.5" x2="1378" y2="634.5" stroke="#000" stroke-width="3.5"/>
<polygon points="1351.15,648.57 1338.91,627.47 1363.39,627.47" fill="#000" stroke="#000" stroke-width="2.6" stroke-linejoin="round"/>
<text x="1402.5" y="642.6" font-size="27.5">UTP</text>
<line x1="1324.3" y1="665.4" x2="1378" y2="665.4" stroke="#000" stroke-width="3.5"/>
<rect x="1340.85" y="655.10" width="20.6" height="20.6" rx="2" fill="#000"/>
<text x="1402.5" y="673.1" font-size="27.5">CTP</text>
<text transform="translate(160.7 68.6) scale(0.915 1)" font-size="44" font-weight="bold">Guanosine</text>
<text transform="translate(608.3 68.6) scale(0.908 1)" font-size="44" font-weight="bold">Adenosine</text>
<text transform="translate(1056.5 68.6) scale(0.965 1)" font-size="44" font-weight="bold">AEC, NTP</text>
<path transform="translate(101.43 101.00) scale(41.500 -42.537)" d="M0.359 0 L0.359 0.709 L0.278 0.709 C0.262 0.630 0.205 0.575 0.101 0.570 L0.101 0.497 C0.170 0.497 0.232 0.515 0.269 0.560 L0.269 0 Z"/>
<text transform="translate(66.81 394.50) scale(1 1.08)" font-size="41.5">0</text><text transform="translate(89.89 394.50) scale(1 1.08)" font-size="41.5">.</text><path transform="translate(101.43 394.50) scale(41.500 -42.537)" d="M0.359 0 L0.359 0.709 L0.278 0.709 C0.262 0.630 0.205 0.575 0.101 0.570 L0.101 0.497 C0.170 0.497 0.232 0.515 0.269 0.560 L0.269 0 Z"/>
<text transform="translate(43.74 688.00) scale(1 1.08)" font-size="41.5">0</text><text transform="translate(66.81 688.00) scale(1 1.08)" font-size="41.5">.</text><text transform="translate(78.35 688.00) scale(1 1.08)" font-size="41.5">0</text><path transform="translate(101.43 688.00) scale(41.500 -42.537)" d="M0.359 0 L0.359 0.709 L0.278 0.709 C0.262 0.630 0.205 0.575 0.101 0.570 L0.101 0.497 C0.170 0.497 0.232 0.515 0.269 0.560 L0.269 0 Z"/>
<text transform="translate(165.06 740.20) scale(1 1.08)" font-size="41.5">0</text>
<text transform="translate(256.76 740.20) scale(1 1.08)" font-size="41.5">5</text>
<path transform="translate(336.93 740.20) scale(41.500 -42.537)" d="M0.359 0 L0.359 0.709 L0.278 0.709 C0.262 0.630 0.205 0.575 0.101 0.570 L0.101 0.497 C0.170 0.497 0.232 0.515 0.269 0.560 L0.269 0 Z"/><text transform="translate(360.00 740.20) scale(1 1.08)" font-size="41.5">0</text>
<path transform="translate(428.63 740.20) scale(41.500 -42.537)" d="M0.359 0 L0.359 0.709 L0.278 0.709 C0.262 0.630 0.205 0.575 0.101 0.570 L0.101 0.497 C0.170 0.497 0.232 0.515 0.269 0.560 L0.269 0 Z"/><text transform="translate(451.70 740.20) scale(1 1.08)" font-size="41.5">5</text>
<text transform="translate(520.33 740.20) scale(1 1.08)" font-size="41.5">3</text><text transform="translate(543.40 740.20) scale(1 1.08)" font-size="41.5">0</text>
<text x="264.8" y="781" font-size="41.5" letter-spacing="0.9">Time, min</text>
<text transform="translate(610.56 740.20) scale(1 1.08)" font-size="41.5">0</text>
<text transform="translate(702.26 740.20) scale(1 1.08)" font-size="41.5">5</text>
<path transform="translate(782.43 740.20) scale(41.500 -42.537)" d="M0.359 0 L0.359 0.709 L0.278 0.709 C0.262 0.630 0.205 0.575 0.101 0.570 L0.101 0.497 C0.170 0.497 0.232 0.515 0.269 0.560 L0.269 0 Z"/><text transform="translate(805.50 740.20) scale(1 1.08)" font-size="41.5">0</text>
<path transform="translate(874.13 740.20) scale(41.500 -42.537)" d="M0.359 0 L0.359 0.709 L0.278 0.709 C0.262 0.630 0.205 0.575 0.101 0.570 L0.101 0.497 C0.170 0.497 0.232 0.515 0.269 0.560 L0.269 0 Z"/><text transform="translate(897.20 740.20) scale(1 1.08)" font-size="41.5">5</text>
<text transform="translate(965.83 740.20) scale(1 1.08)" font-size="41.5">3</text><text transform="translate(988.90 740.20) scale(1 1.08)" font-size="41.5">0</text>
<text x="710.9" y="781" font-size="41.5" letter-spacing="0.9">Time, min</text>
<text transform="translate(1056.06 740.20) scale(1 1.08)" font-size="41.5">0</text>
<text transform="translate(1147.76 740.20) scale(1 1.08)" font-size="41.5">5</text>
<path transform="translate(1227.93 740.20) scale(41.500 -42.537)" d="M0.359 0 L0.359 0.709 L0.278 0.709 C0.262 0.630 0.205 0.575 0.101 0.570 L0.101 0.497 C0.170 0.497 0.232 0.515 0.269 0.560 L0.269 0 Z"/><text transform="translate(1251.00 740.20) scale(1 1.08)" font-size="41.5">0</text>
<path transform="translate(1319.63 740.20) scale(41.500 -42.537)" d="M0.359 0 L0.359 0.709 L0.278 0.709 C0.262 0.630 0.205 0.575 0.101 0.570 L0.101 0.497 C0.170 0.497 0.232 0.515 0.269 0.560 L0.269 0 Z"/><text transform="translate(1342.70 740.20) scale(1 1.08)" font-size="41.5">5</text>
<text transform="translate(1411.33 740.20) scale(1 1.08)" font-size="41.5">3</text><text transform="translate(1434.40 740.20) scale(1 1.08)" font-size="41.5">0</text>
<text x="1155.8" y="781" font-size="41.5" letter-spacing="0.9">Time, min</text>
<text transform="translate(55.4 546.8) rotate(-90)" font-size="41.5" letter-spacing="0.65">Nucleotide quotient</text>
<text x="7.5" y="829" font-size="23.6">ppGpp =</text>
<line x1="100.2" y1="822.2" x2="531.3" y2="822.2" stroke="#000" stroke-width="1.5"/>
<text x="315.6" y="813.2" font-size="23.6" text-anchor="middle">ppGpp</text>
<text x="315.8" y="849.2" font-size="23.6" text-anchor="middle">GMP+IMP+GDP+GTP+ppGpp+pppGpp</text>
<g fill="#4b9b27">
<text x="633" y="831.1" font-size="23.6">AEC =</text>
<line x1="706.8" y1="824.5" x2="889.7" y2="824.5" stroke="#4b9b27" stroke-width="1.5"/>
<text x="798" y="815.6" font-size="23.6" text-anchor="middle">ATP+0.5×ADP</text>
<text x="798" y="851.2" font-size="23.6" text-anchor="middle">AMP+ADP+ATP</text>
</g>
<text x="988.5" y="830.5" font-size="23.6">NTP =</text>
<line x1="1058.9" y1="823.7" x2="1293.6" y2="823.7" stroke="#000" stroke-width="1.5"/>
<text x="1176.3" y="816" font-size="23.6" text-anchor="middle">NTP</text>
<text x="1176" y="851.2" font-size="23.6" text-anchor="middle">ATP+GTP+UTP+CTP</text>
<text x="1294.5" y="831.2" font-size="23.6">; N =</text>
<text x="1365" y="831.2" font-size="23.6" letter-spacing="0.55">A, G, U, C</text>
<path d="M1363.8 806.5 C1359.0 806.5 1359.5 808.0 1359.5 811.5 L1359.5 817.4 C1359.5 820.7 1357.2 821.9 1355.2 821.9 C1357.2 821.9 1359.5 823.1 1359.5 826.4 L1359.5 832.3 C1359.5 835.8 1359.0 837.3 1363.8 837.3" stroke="#000" stroke-width="2.6" fill="none" stroke-linecap="butt"/>
<path d="M1477.9 806.5 C1482.6 806.5 1482.1 808.0 1482.1 811.5 L1482.1 817.4 C1482.1 820.7 1484.3 821.9 1486.3 821.9 C1484.3 821.9 1482.1 823.1 1482.1 826.4 L1482.1 832.3 C1482.1 835.8 1482.6 837.3 1477.9 837.3" stroke="#000" stroke-width="2.6" fill="none" stroke-linecap="butt"/>
</svg></body></html>
